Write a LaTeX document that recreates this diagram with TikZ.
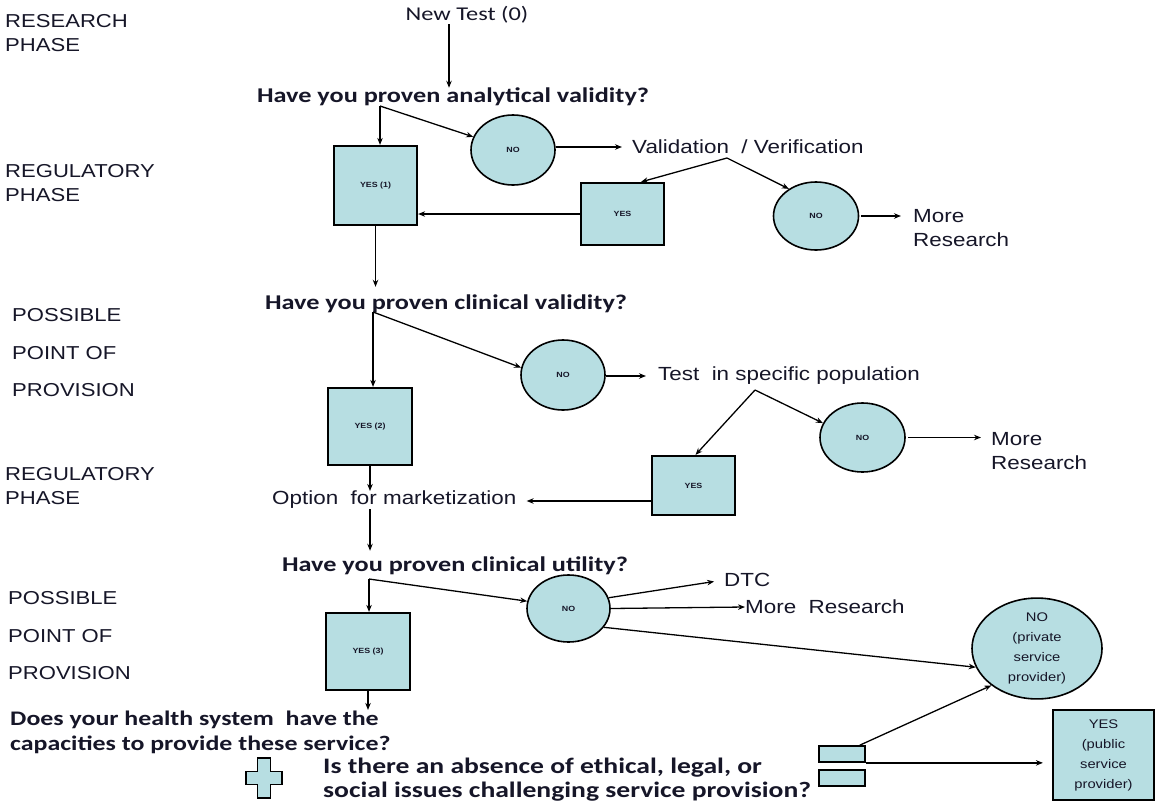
\documentclass[tikz,border=0pt]{standalone}
\usepackage{fontspec}
\setmainfont[FakeStretch=1.18]{Liberation Sans}
\newfontfamily\qfont[FakeStretch=1.25]{Carlito}
\usetikzlibrary{arrows.meta,shapes.geometric}
\definecolor{fillb}{RGB}{183,222,226}
\definecolor{ink}{RGB}{22,22,40}
\begin{document}
\begin{tikzpicture}[x=1pt,y=-1pt,
  every node/.style={inner sep=0pt, text=ink},
  lbl/.style={anchor=west, align=left, font=\fontsize{18.7}{24}\selectfont},
  lbl3/.style={anchor=west, align=left, font=\fontsize{18.7}{37.5}\selectfont},
  txt/.style={anchor=west, align=left, font=\fontsize{19}{24.5}\selectfont},
  q/.style={font=\qfont\bfseries\fontsize{21}{25}\selectfont},
  ybox/.style={draw=black, line width=2.2pt, fill=fillb, font=\bfseries\fontsize{7.5}{9}\selectfont},
  nocirc/.style={draw=black, ellipse, line width=1.6pt, fill=fillb, minimum width=84pt, minimum height=70pt, font=\bfseries\fontsize{7.5}{9}\selectfont},
  arr/.style={-{Stealth[length=7pt,width=5.5pt]}, line width=1.3pt},
]
\useasboundingbox[fill=white] (0,0) rectangle (1156,803);

% phase labels
\node[lbl] (ph1) at (5,33) {RESEARCH\\PHASE};
\node[lbl] (ph2) at (5,183) {REGULATORY\\PHASE};
\node[lbl3] (ph3) at (12,353) {POSSIBLE\\POINT OF\\PROVISION};
\node[lbl] (ph4) at (5,486) {REGULATORY\\PHASE};
\node[lbl3] (ph5) at (8,636) {POSSIBLE\\POINT OF\\PROVISION};

% stage 1
\node[font=\qfont\fontsize{19.5}{23}\selectfont] (new) at (467,15) {New Test (0)};
\node[q] (q1) at (453,97) {Have you proven analytical validity?};
\node[ybox, minimum width=83pt, minimum height=79pt] (y1) at (375.5,185.5) {YES (1)};
\node[nocirc] (n1) at (513,150) {NO};
\node[txt] (val) at (632,147) {Validation\ \ / Verification};
\node[ybox, minimum width=83pt, minimum height=62pt] (y1b) at (622.5,214) {YES};
\node[nocirc, minimum width=85pt, minimum height=68pt] (n1b) at (816,216) {NO};
\node[txt] (mr1) at (913,228) {More\\Research};

\coordinate (a0) at (449,24);
\coordinate (b1) at (380,106);
\coordinate (b2) at (727,158);
\draw[arr] (a0) -- (a0 |- q1.north);
\draw[arr] (b1) -- (b1 |- y1.north);
\draw[arr] (b1) -- (n1);
\draw[arr, shorten >=10pt] (n1.east |- val) -- (val.west);
\draw[arr] (b2) -- (y1b.60);
\draw[arr] (b2) -- (n1b.135);
\draw[arr] (y1b.west) -- (y1b.west -| y1.east);
\draw[arr, shorten >=12pt] ([xshift=2pt]n1b.east) -- (n1b -| mr1.west);

% stage 2
\node[q] (q2) at (446,304) {Have you proven clinical validity?};
\node[ybox, minimum width=84pt, minimum height=77pt] (y2) at (370,426.5) {YES (2)};
\node[nocirc] (n2) at (563,375) {NO};
\node[txt] (tsp) at (658,376) {Test\ \ in specific population};
\node[nocirc, minimum width=85pt, minimum height=69pt] (n3) at (862.5,437.5) {NO};
\node[txt] (mr2) at (991,451) {More\\Research};
\node[ybox, minimum width=83pt, minimum height=59pt] (y2b) at (693.5,485.5) {YES};
\node[txt] (opt) at (272,500) {Option\ \ for marketization};

\draw[arr, shorten >=8pt] (y1.south) -- (y1.south |- q2.north);
\coordinate (b3) at (373,312);
\coordinate (b4) at (755,390);
\draw[arr] (b3) -- (b3 |- y2.north);
\draw[arr] (b3) -- (n2.170);
\draw[arr, shorten >=12pt] (n2.east |- tsp) -- (tsp.west);
\draw[arr] (b4) -- ([xshift=2pt]y2b.north);
\draw[arr] (b4) -- (n3.160);
\draw[arr, shorten >=10pt] ([xshift=2pt]n3.east) -- (n3 -| mr2.west);
\draw[arr, shorten >=10pt] (y2b.west |- 0,501) -- (opt.east |- 0,501);
\draw[arr] (y2.south) -- (y2.south |- opt.north);

% stage 3
\node[q] (q3) at (455,566) {Have you proven clinical utility?};
\node[ybox, minimum width=84pt, minimum height=77pt] (y3) at (368,651.5) {YES (3)};
\node[nocirc, minimum width=83pt, minimum height=67pt] (n4) at (568.5,608.5) {NO};
\node[txt] (dtc) at (724,580) {DTC};
\node[txt] (mr3) at (745,607) {More\ \ Research};
\node[draw=black, ellipse, line width=1.6pt, fill=fillb, minimum width=130pt, minimum height=97pt,
      align=center, font=\fontsize{12.5}{20}\selectfont] (np) at (1037,648.5) {NO\\(private\\service\\provider)};
\node[draw=black, line width=2.2pt, fill=fillb, minimum width=101pt, minimum height=90pt,
      align=center, font=\fontsize{12.5}{20}\selectfont] (yp) at (1103.5,755) {YES\\(public\\service\\provider)};

\draw[arr, shorten >=6pt] (opt.south -| y2) -- (y2 |- q3.north);
\coordinate (b6) at (369,579);
\draw[arr] (b6) -- (b6 |- y3.north);
\draw[arr] (b6) -- (n4.170);
\draw[arr, shorten >=10pt] (n4.15) -- (dtc.west);
\draw[arr] (n4.east) -- (mr3.west);
\draw[arr] (n4.-28) -- (np.197);

% stage 4
\node[q, anchor=west, align=left, font=\qfont\bfseries\fontsize{20.7}{25}\selectfont] (hs) at (10,732.5)
  {Does your health system\ \ have the\\capacities to provide these service?};
\node[q, anchor=west, align=left, font=\qfont\bfseries\fontsize{22.1}{24}\selectfont] (is) at (323,780)
  {Is there an absence of ethical, legal, or\\social issues challenging service provision?};
\draw[arr, shorten >=1pt] (y3.south) -- (y3.south |- hs.north);

% plus sign
\filldraw[fill=fillb, draw=black, line width=1.7pt, shift={(264,778)}]
  (-6.5,-20) -- (6.5,-20) -- (6.5,-6.5) -- (18,-6.5) -- (18,6.5) -- (6.5,6.5)
  -- (6.5,20) -- (-6.5,20) -- (-6.5,6.5) -- (-18,6.5) -- (-18,-6.5) -- (-6.5,-6.5) -- cycle;

% equals sign
\node[draw=black, line width=1.7pt, fill=fillb, minimum width=46pt, minimum height=16pt] (eq1) at (842,754) {};
\node[draw=black, line width=1.7pt, fill=fillb, minimum width=46pt, minimum height=16pt] (eq2) at (842,778) {};

\draw[arr] ([xshift=-6pt]eq1.north east) -- (np.219);
\draw[arr, shorten >=9pt] (eq1.south east) -- (eq1.south east -| yp.west);
\end{tikzpicture}
\end{document}
